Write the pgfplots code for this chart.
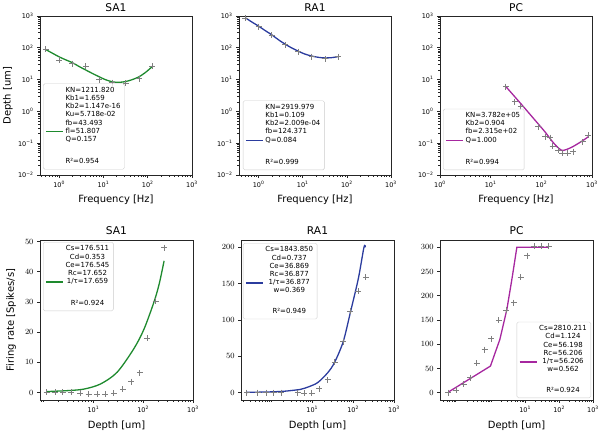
\documentclass[border=0pt]{standalone}
\usepackage{fontspec}
\setmainfont{DejaVu Sans}
\usepackage{pgfplots}
\pgfplotsset{compat=1.18}
\definecolor{colG}{HTML}{1E8A2E}
\definecolor{colB}{HTML}{2B3C9E}
\definecolor{colM}{HTML}{A6279F}
\definecolor{colP}{HTML}{7F7F7F}
\newcommand\tl[1]{10\textsuperscript{#1}}
\newcommand\lgE[1]{\addlegendimage{empty legend}\addlegendentry{#1}}
\pgfplotsset{
  legend image code/.code={\draw[#1,line width=1.3bp] (0bp,0bp) -- (17bp,0bp);},
  every axis/.append style={scale only axis, tick align=outside, xtick pos=left, ytick pos=left,
    major tick length=3bp, minor tick length=1.8bp,
    every tick/.style={black!85, line width=0.6bp},
    axis line style={black!85, line width=0.6bp},
    title style={font=\fontsize{10.7}{13}\selectfont, inner sep=0pt, anchor=south, yshift=-6pt},
    label style={font=\fontsize{10}{12}\selectfont, inner sep=0pt},
    xlabel style={anchor=north},
    ylabel style={anchor=north},
    xticklabel style={font=\fontsize{6.5}{8}\selectfont},
    legend style={font=\fontsize{7}{8.2}\selectfont, draw=black!20, rounded corners=1.5bp,
      fill=white, fill opacity=0.8, text opacity=1, inner xsep=2bp, inner ysep=3bp, row sep=0pt,
      nodes={inner xsep=2bp, inner ysep=0pt, text height=5.6bp, text depth=2.6bp}},
    legend cell align=left,
  },
}
\pgfplotsset{
  myTop/.style={width=152bp, height=159bp,
    ymin=0.01, ymax=1000, xmax=1000,
    ytick={0.01,0.1,1,10,100,1000},
    yticklabels={\tl{−2},\tl{−1},\tl{0},\tl{1},\tl{2},\tl{3}},
    minor ytick={0.02,0.03,0.04,0.05,0.06,0.07,0.08,0.09,0.2,0.3,0.4,0.5,0.6,0.7,0.8,0.9,2,3,4,5,6,7,8,9,20,30,40,50,60,70,80,90,200,300,400,500,600,700,800,900},
    xtick={1,10,100,1000},
    xticklabels={\tl{0},\tl{1},\tl{2},\tl{3}},
    minor xtick={0.4,0.5,0.6,0.7,0.8,0.9,2,3,4,5,6,7,8,9,20,30,40,50,60,70,80,90,200,300,400,500,600,700,800,900},
    yticklabel style={font=\fontsize{6.5}{8}\selectfont},
    xlabel={Frequency [Hz]},
    xlabel style={at={(axis description cs:0.5,-0.125)}},
    ylabel style={at={(axis description cs:-0.245,0.5)}},
    title style={at={(axis description cs:0.5,1.027)}},
  },
  myBot/.style={width=153bp, height=160bp, xmax=1000,
    xtick={10,100,1000},
    xticklabels={\tl{1},\tl{2},\tl{3}},
    minor xtick={0.04,0.05,0.06,0.07,0.08,0.09,0.2,0.3,0.4,0.5,0.6,0.7,0.8,0.9,1,2,3,4,5,6,7,8,9,20,30,40,50,60,70,80,90,200,300,400,500,600,700,800,900},
    yticklabel style={font=\fontsize{8.5}{10}\selectfont},
    xlabel={Depth [um]},
    xlabel style={at={(axis description cs:0.5,-0.128)}},
    ylabel style={at={(axis description cs:-0.222,0.5)}},
    title style={at={(axis description cs:0.5,1.031)}},
    legend cell align=center,
  },
}
\begin{document}
\begin{tikzpicture}[x=1bp,y=1bp]
\path[use as bounding box] (0,0) rectangle (600,430);

% ---------- top row ----------
\begin{axis}[xmode=log, ymode=log, myTop, at={(40bp,255bp)}, anchor=south west, title={SA1}, xmin=0.37,
  ylabel={Depth [um]},
  legend style={at={(0.02,0.035)}, anchor=south west}]
\addplot[only marks, mark=+, mark size=3bp, colP, line width=0.9bp, forget plot] coordinates {(0.5,91) (1,41) (2,32) (4,26) (8,9.8) (16,8.0) (32,7.6) (64,10.5) (128,26)};
\lgE{KN=1211.820}\lgE{Kb1=1.659}\lgE{Kb2=1.147e-16}\lgE{Ku=5.718e-02}\lgE{fb=43.493}
\addplot[colG, line width=1.3bp, smooth] coordinates {(0.5,88) (0.7,68) (1,52) (1.4,42) (2,34) (2.8,26) (4,20) (5.7,15.5) (8,12.3) (11,10) (16,8.5) (20,8.2) (25,8.3) (32,8.7) (45,10) (64,12.3) (90,17) (128,26)};
\addlegendentry{fl=51.807}
\lgE{Q=0.157}
\addlegendimage{empty legend}\addlegendentry[text height=19.5bp]{R²=0.954}
\end{axis}

\begin{axis}[xmode=log, ymode=log, myTop, at={(239bp,255bp)}, anchor=south west, title={RA1}, xmin=0.36,
  legend style={at={(0.026,0.031)}, anchor=south west}]
\addplot[only marks, mark=+, mark size=3bp, colP, line width=0.9bp, forget plot] coordinates {(0.5,850) (1,460) (2,250) (4,123) (8,76) (16,53) (32,45) (64,53)};
\lgE{KN=2919.979}\lgE{Kb1=0.109}\lgE{Kb2=2.009e-04}\lgE{fb=124.371}
\addplot[colB, line width=1.3bp, smooth] coordinates {(0.5,880) (0.7,650) (1,480) (1.4,350) (2,255) (2.8,180) (4,130) (5.7,98) (8,78) (11,64) (16,55) (23,50) (32,48) (45,49) (64,53)};
\addlegendentry{Q=0.084}
\addlegendimage{empty legend}\addlegendentry[text height=19.5bp]{R²=0.999}
\end{axis}

\begin{axis}[xmode=log, ymode=log, myTop, at={(440bp,255bp)}, anchor=south west, title={PC}, xmin=1,
  legend style={at={(0.02,0.031)}, anchor=south west}]
\addplot[only marks, mark=+, mark size=3bp, colP, line width=0.9bp, forget plot] coordinates {(20,6.0) (30,2.0) (39,1.4) (87,0.33) (118,0.16) (148,0.15) (167,0.081) (215,0.061) (258,0.048) (330,0.048) (425,0.054) (650,0.11) (840,0.18)};
\lgE{KN=3.782e+05}\lgE{Kb2=0.904}\lgE{fb=2.315e+02}
\addplot[colM, line width=1.3bp, smooth] coordinates {(20,6) (40,1.7) (80,0.47) (120,0.22) (160,0.12) (200,0.08) (250,0.06) (300,0.062) (400,0.075) (600,0.11) (850,0.16)};
\addlegendentry{Q=1.000}
\addlegendimage{empty legend}\addlegendentry[text height=19.5bp]{R²=0.994}
\end{axis}

% ---------- bottom row ----------
\begin{axis}[xmode=log, myBot, at={(40bp,30bp)}, anchor=south west, title={SA1}, xmin=0.85,
  ymin=-2.5, ymax=50.5, ytick={0,10,20,30,40,50},
  ylabel={Firing rate [Spikes/s]},
  legend style={at={(0.02,0.9875)}, anchor=north west}]
\addplot[only marks, mark=+, mark size=3bp, colP, line width=0.9bp, forget plot] coordinates {(1.16,0) (1.7,0) (2.45,0) (3.6,0) (5.5,-0.3) (8,-0.6) (11.9,-0.6) (17.4,-0.6) (25.7,-0.3) (39,1.1) (58,3.6) (86,6.5) (122,18) (178,30.3) (263,48)};
\lgE{Cs=176.511}\lgE{Cd=0.353}\lgE{Ce=176.545}\lgE{Rc=17.652}
\addplot[colG, line width=1.3bp, smooth] coordinates {(1.16,0.3) (2.95,0.6) (6.4,1.1) (13.9,2.8) (30,6.7) (65,14.5) (104,21) (165,30) (210,36) (263,43.6)};
\addlegendentry{1/τ=17.659}
\addlegendimage{empty legend}\addlegendentry[text height=19bp]{R²=0.924}
\end{axis}

\begin{axis}[xmode=log, myBot, at={(241bp,30bp)}, anchor=south west, title={RA1}, xmin=0.18,
  ymin=-10, ymax=210, ytick={0,50,100,150,200},
  legend style={at={(0.013,0.981)}, anchor=north west}]
\addplot[only marks, mark=+, mark size=3bp, colP, line width=0.9bp, forget plot] coordinates {(0.25,0) (0.46,0) (0.74,0) (1.14,0) (1.74,0) (4.4,0) (6.3,-1) (9.7,-1) (14.9,5.5) (24,17.6) (35,41.6) (57,70) (86,112) (134,139.5) (204,159)};
\lgE{Cs=1843.850}\lgE{Cd=0.737}\lgE{Ce=36.869}\lgE{Rc=36.877}
\addplot[colB, line width=1.3bp, smooth] coordinates {(0.25,0.5) (0.5,0.8) (1,1.2) (2,2) (3,3) (5.2,4.7) (8,8) (13.6,14) (24,27.7) (35,41.6) (57,70) (86,111) (134,157) (184,200) (200,200)};
\addlegendentry{1/τ=36.877}
\lgE{w=0.369}
\addlegendimage{empty legend}\addlegendentry[text height=18bp]{R²=0.949}
\end{axis}

\begin{axis}[xmode=log, myBot, at={(440bp,30bp)}, anchor=south west, title={PC}, xmin=0.031,
  ymin=-15, ymax=315, ytick={0,50,100,150,200,250,300},
  legend style={at={(0.987,0.0125)}, anchor=south east}]
\addplot[only marks, mark=+, mark size=3bp, colP, line width=0.9bp, forget plot] coordinates {(0.055,0) (0.093,4.8) (0.153,17) (0.24,31) (0.38,60.7) (0.64,89) (1.01,111) (1.67,150) (2.76,170) (4.65,186) (7.35,238) (11.6,283) (18.3,302) (30,302) (49,302)};
\lgE{Cs=2810.211}\lgE{Cd=1.124}\lgE{Ce=56.198}\lgE{Rc=56.206}
\addplot[colM, line width=1.3bp] coordinates {(0.055,1.5) (0.95,55) (1.8,110) (2.9,172) (4.2,240) (5.7,300) (49,300)};
\addlegendentry{1/τ=56.206}
\lgE{w=0.562}
\addlegendimage{empty legend}\addlegendentry[text height=18bp]{R²=0.924}
\end{axis}
\end{tikzpicture}
\end{document}
